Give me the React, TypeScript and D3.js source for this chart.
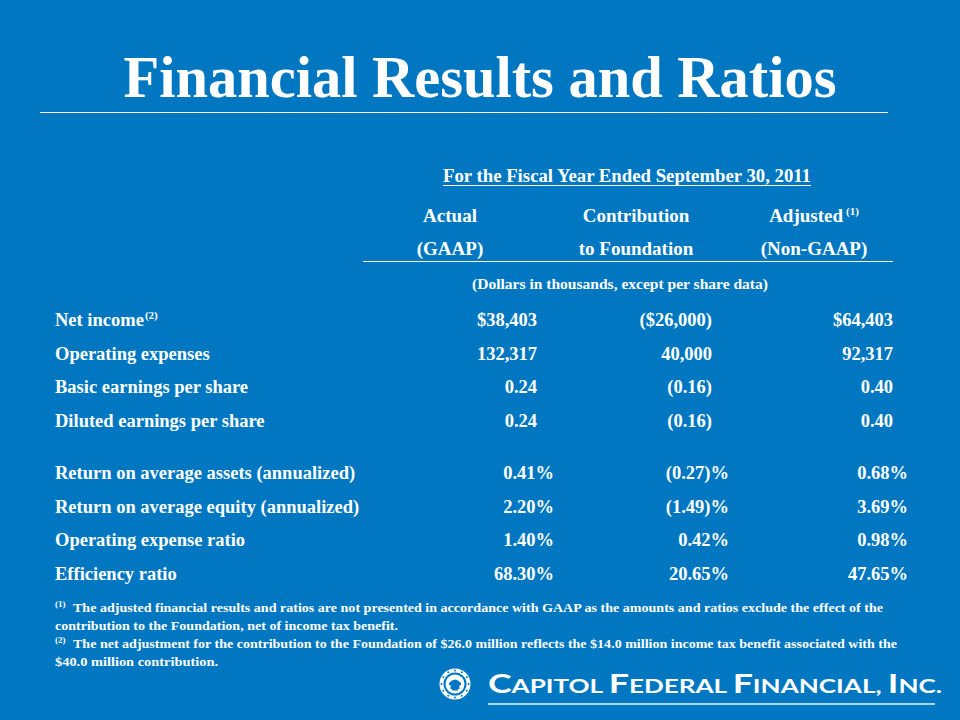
import React from 'react';
import * as d3 from 'd3';

// ---------- data ----------
const titleText = 'Financial Results and Ratios';
const periodText = 'For the Fiscal Year Ended September 30, 2011';
const unitsText = '(Dollars in thousands, except per share data)';
const columnTitles = ['Actual', 'Contribution', 'Adjusted'];
const columnSubtitles = ['(GAAP)', 'to Foundation', '(Non-GAAP)'];
const columnNotes = ['', '', '(1)'];
const rowLabels = [
  'Net income',
  'Operating expenses',
  'Basic earnings per share',
  'Diluted earnings per share',
  'Return on average assets (annualized)',
  'Return on average equity (annualized)',
  'Operating expense ratio',
  'Efficiency ratio',
];
const rowNotes = ['(2)', '', '', '', '', '', '', ''];
const rowGroups = [0, 0, 0, 0, 1, 1, 1, 1];
const actualValues = ['$38,403', '132,317', '0.24', '0.24', '0.41%', '2.20%', '1.40%', '68.30%'];
const contributionValues = ['($26,000)', '40,000', '(0.16)', '(0.16)', '(0.27)%', '(1.49)%', '0.42%', '20.65%'];
const adjustedValues = ['$64,403', '92,317', '0.40', '0.40', '0.68%', '3.69%', '0.98%', '47.65%'];
const footnotes = [
  { mark: '(1)', text: 'The adjusted financial results and ratios are not presented in accordance with GAAP as the amounts and ratios exclude the effect of the' },
  { mark: '', text: 'contribution to the Foundation, net of income tax benefit.' },
  { mark: '(2)', text: 'The net adjustment for the contribution to the Foundation of $26.0 million reflects the $14.0 million income tax benefit associated with the' },
  { mark: '', text: '$40.0 million contribution.' },
];
const logoWords = ['Capitol', 'Federal', 'Financial,', 'Inc.'];

// ---------- layout ----------
const W = 960;
const H = 720;
const BG = '#0077C0';
const SERIF = "'Liberation Serif', 'Times New Roman', serif";
const footLengths = [810, 343, 824, 163];
const footStarts = [73, 55, 73, 55];

export default function App() {
  const columnValues = [actualValues, contributionValues, adjustedValues];
  const slot = rowLabels.map((_, i) => i + rowGroups[i] * 0.55);
  const y = d3.scaleLinear().domain([0, d3.max(slot) as number]).range([320, 574]);
  const colRight = [
    d3.scaleOrdinal<number, number>().domain([0, 1, 2]).range([537, 712, 893]),
    d3.scaleOrdinal<number, number>().domain([0, 1, 2]).range([554, 729, 908]),
  ];
  const headCenter = d3.scaleOrdinal<number, number>().domain([0, 1, 2]).range([450, 636, 814]);
  const footY = d3.scaleLinear().domain([0, 3]).range([612, 666]);

  return (
    <svg
      width={W}
      height={H}
      viewBox={`0 0 ${W} ${H}`}
      style={{ position: 'absolute', left: 0, top: 0, display: 'block' }}
    >
      <rect x={0} y={0} width={W} height={H} fill={BG} />

      {/* title */}
      <text
        x={480}
        y={97}
        textAnchor="middle"
        fill="#fff"
        fontFamily={SERIF}
        fontWeight="bold"
        fontSize={60}
        textLength={713}
        lengthAdjust="spacingAndGlyphs"
      >
        {titleText}
      </text>
      <line x1={40} x2={888} y1={112.5} y2={112.5} stroke="#fff" strokeWidth={1} />

      {/* period header */}
      <text x={627} y={182} textAnchor="middle" fill="#fff" fontFamily={SERIF} fontWeight="bold" fontSize={18}
        textLength={368} lengthAdjust="spacingAndGlyphs">
        {periodText}
      </text>
      <line x1={443} x2={811} y1={185.5} y2={185.5} stroke="#fff" strokeWidth={1.2} />

      {/* column headers */}
      {columnTitles.map((t, i) => (
        <text key={'ct' + i} x={headCenter(i)} y={222} textAnchor="middle" fill="#fff" fontFamily={SERIF} fontWeight="bold" fontSize={19}>
          {t}
          {columnNotes[i] ? (
            <tspan fontSize={11} dy={-7} dx={3}>{columnNotes[i]}</tspan>
          ) : null}
        </text>
      ))}
      {columnSubtitles.map((t, i) => (
        <text key={'cs' + i} x={headCenter(i)} y={255} textAnchor="middle" fill="#fff" fontFamily={SERIF} fontWeight="bold" fontSize={19}>
          {t}
        </text>
      ))}
      <line x1={363} x2={893} y1={261.5} y2={261.5} stroke="#fff" strokeWidth={1} />
      <text x={620} y={289} textAnchor="middle" fill="#fff" fontFamily={SERIF} fontWeight="bold" fontSize={14}
        textLength={296} lengthAdjust="spacingAndGlyphs">
        {unitsText}
      </text>

      {/* rows */}
      {rowLabels.map((label, i) => (
        <g key={'r' + i}>
          <text x={55} y={y(slot[i]) + 6} fill="#fff" fontFamily={SERIF} fontWeight="bold" fontSize={18.5}>
            {label}
            {rowNotes[i] ? <tspan fontSize={11} dy={-7} dx={1}>{rowNotes[i]}</tspan> : null}
          </text>
          {columnValues.map((vals, c) => (
            <text
              key={'v' + c}
              x={colRight[rowGroups[i]](c)}
              y={y(slot[i]) + 6}
              textAnchor="end"
              fill="#fff"
              fontFamily={SERIF}
              fontWeight="bold"
              fontSize={18.5}
            >
              {vals[i]}
            </text>
          ))}
        </g>
      ))}

      {/* footnotes */}
      {footnotes.map((f, i) => (
        <g key={'f' + i}>
          {f.mark ? (
            <text x={55} y={footY(i) - 5} fill="#fff" fontFamily={SERIF} fontWeight="bold" fontSize={9}>
              {f.mark}
            </text>
          ) : null}
          <text
            x={footStarts[i]}
            y={footY(i)}
            fill="#fff"
            fontFamily={SERIF}
            fontWeight="bold"
            fontSize={13}
            textLength={footLengths[i]}
            lengthAdjust="spacingAndGlyphs"
          >
            {f.text}
          </text>
        </g>
      ))}

      {/* logo */}
      <g transform="translate(455,684)">
        <circle r={15.5} fill="#fff" />
        <circle r={11.5} fill={BG} />
        <circle r={9.5} fill="#fff" />
        <path d="M-6,1 L-6,-1 Q0,-8 6,-1 L6,1 Z" fill={BG} />
        <rect x={-4.5} y={1} width={9} height={4} fill={BG} />
        <rect x={-3} y={5} width={6} height={1.5} fill={BG} />
        {d3.range(12).map((k) => {
          const a = (k / 12) * Math.PI * 2;
          return <circle key={k} cx={Math.cos(a) * 13.5} cy={Math.sin(a) * 13.5} r={1} fill={BG} />;
        })}
      </g>
      <text x={488} y={693} fill="#fff" fontFamily="Lato, 'Open Sans', sans-serif" fontWeight="bold" fontSize={19}
        textLength={454} lengthAdjust="spacingAndGlyphs">
        {logoWords.map((w, i) => (
          <tspan key={i}>
            <tspan fontSize={26}>{w[0].toUpperCase()}</tspan>
            {w.slice(1).toUpperCase()}
            {i < logoWords.length - 1 ? ' ' : ''}
          </tspan>
        ))}
      </text>
      <line x1={488} x2={935} y1={704} y2={704} stroke="#A9D6F5" strokeWidth={2} />
    </svg>
  );
}
